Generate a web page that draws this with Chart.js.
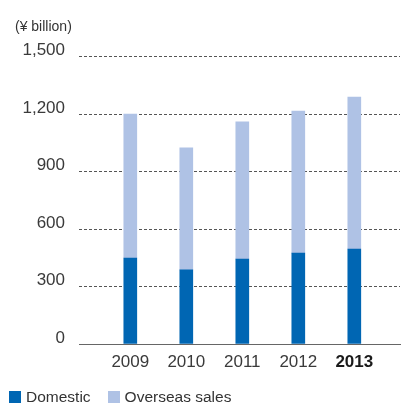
<!DOCTYPE html>
<html>
<head>
<meta charset="utf-8">
<script src="https://cdn.jsdelivr.net/npm/chart.js@4"></script>
<style>
  html, body { margin: 0; padding: 0; background: #fff; }
  #wrap { position: relative; width: 404px; height: 403px; }
  #legend {
    position: absolute; left: 9px; top: 388px;
    display: flex; align-items: center;
    font-family: "Liberation Sans", Arial, sans-serif; font-size: 15.5px; color: #333;
    line-height: 18px;
  }
  #legend .item { display: flex; align-items: center; margin-right: 17px; }
  #legend .box { width: 12px; height: 12px; margin-right: 5px; }
</style>
</head>
<body>
<div id="wrap">
  <canvas id="salesChart" width="404" height="403"></canvas>
  <div id="legend"></div>
</div>
<script>
// years on the x axis
const years = [2009, 2010, 2011, 2012, 2013];
// sales, ¥ billion
const domesticSales = [449, 387, 444, 475, 496];
const overseasSales = [752, 637, 716, 742, 794];
// y axis ticks
const yTicks = [0, 300, 600, 900, 1200, 1500];

const toPoints = values => years.map((yr, i) => ({ x: yr, y: values[i] }));

Chart.defaults.font.family = '"Liberation Sans", Arial, sans-serif';

const salesChartData = {
    datasets: [{
        label: 'Domestic',
        data: toPoints(domesticSales),
        backgroundColor: '#0066b3',
        barThickness: 13
    }, {
        label: 'Overseas sales',
        data: toPoints(overseasSales),
        backgroundColor: '#afc2e5',
        barThickness: 13
    }]
};

const salesChartCtx = document.getElementById('salesChart').getContext('2d');
const salesChart = new Chart(salesChartCtx, {
    type: 'bar',
    data: salesChartData,
    options: {
        responsive: false,
        animation: false,
        layout: { padding: { left: 15, right: 4, top: 0, bottom: 0 } },
        plugins: {
            legend: { display: false },
            tooltip: { enabled: false },
            title: {
                display: true,
                text: '(¥ billion)',
                align: 'start',
                color: '#333',
                font: { size: 14, weight: 'normal' },
                padding: { top: 19, bottom: 21 }
            }
        },
        scales: {
            x: {
                type: 'linear',
                stacked: true,
                offset: false,
                min: 2008.084,
                max: 2013.816,
                afterBuildTicks: scale => {
                    scale.ticks = years.map(v => ({ value: v }));
                },
                afterFit: scale => { scale.height = 59; },
                grid: { display: false, drawTicks: false },
                border: { display: true, color: '#666', width: 1 },
                ticks: {
                    padding: 8,
                    color: ctx => ctx.tick && ctx.tick.value === 2013 ? '#1a1a1a' : '#3a3a3a',
                    font: ctx => ({
                        size: 17,
                        weight: ctx.tick && ctx.tick.value === 2013 ? 'bold' : 'normal'
                    }),
                    callback: value => String(value)
                }
            },
            y: {
                stacked: true,
                min: 0,
                max: 1500,
                afterBuildTicks: scale => {
                    scale.ticks = yTicks.map(v => ({ value: v }));
                },
                afterFit: scale => { scale.width = 64; },
                grid: {
                    drawTicks: false,
                    color: ctx => ctx.tick && ctx.tick.value === 0 ? 'rgba(0,0,0,0)' : '#555',
                    lineWidth: 1
                },
                border: { display: false, dash: [3, 2] },
                ticks: {
                    padding: 14,
                    labelOffset: -6,
                    color: '#3a3a3a',
                    font: { size: 17 },
                    callback: value => value.toLocaleString('en-US')
                }
            }
        }
    }
});

// legend built from the chart's own datasets
const legendEl = document.getElementById('legend');
salesChart.data.datasets.forEach(ds => {
    const item = document.createElement('div');
    item.className = 'item';
    const box = document.createElement('span');
    box.className = 'box';
    box.style.background = ds.backgroundColor;
    const text = document.createElement('span');
    text.textContent = ds.label;
    item.appendChild(box);
    item.appendChild(text);
    legendEl.appendChild(item);
});
</script>
</body>
</html>
